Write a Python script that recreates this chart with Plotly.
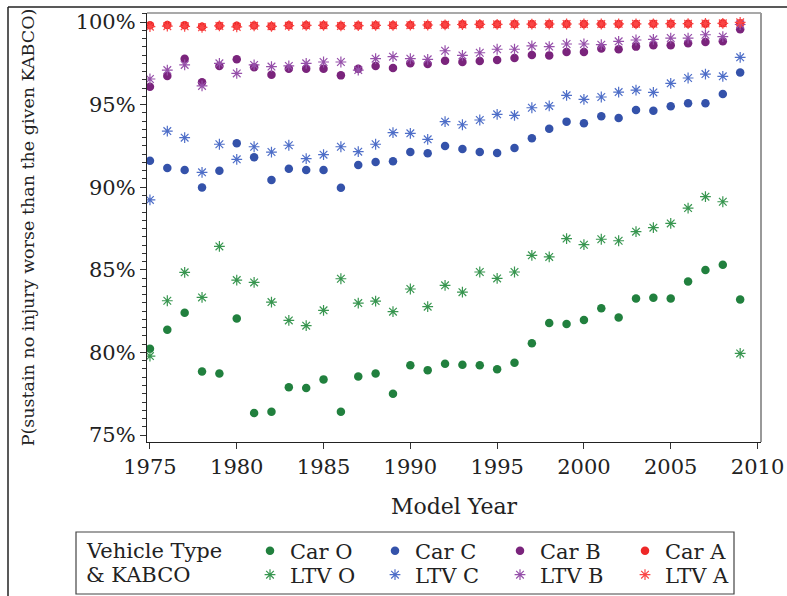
import plotly.graph_objects as go

# Model years
years = list(range(1975, 2010))

# P(sustain no injury worse than the given KABCO), in percent
car_o = [80.23, 81.38, 82.40, 78.85, 78.73, 82.06, 76.33, 76.41, 77.89, 77.85,
         78.37, 76.41, 78.54, 78.73, 77.50, 79.22, 78.93, 79.32, 79.26, 79.22,
         78.98, 79.38, 80.55, 81.78, 81.72, 81.96, 82.67, 82.12, 83.27, 83.31,
         83.27, 84.30, 84.99, 85.31, 83.21]
ltv_o = [79.78, 83.13, 84.85, 83.33, 86.42, 84.38, 84.24, 83.05, 81.94, 81.62,
         82.55, 84.46, 82.99, 83.11, 82.47, 83.84, 82.77, 84.06, 83.65, 84.87,
         84.48, 84.87, 85.88, 85.78, 86.89, 86.52, 86.85, 86.76, 87.31, 87.55,
         87.81, 88.74, 89.43, 89.12, 79.94]
car_c = [91.60, 91.16, 91.04, 89.99, 91.00, 92.66, 91.81, 90.44, 91.12, 91.04,
         91.04, 89.97, 91.34, 91.53, 91.57, 92.13, 92.05, 92.49, 92.32, 92.13,
         92.07, 92.37, 92.96, 93.54, 93.97, 93.87, 94.29, 94.19, 94.67, 94.63,
         94.90, 95.08, 95.08, 95.64, 96.95]
ltv_c = [89.23, 93.40, 93.00, 90.90, 92.60, 91.69, 92.45, 92.13, 92.54, 91.73,
         91.97, 92.45, 92.15, 92.60, 93.30, 93.26, 92.90, 93.97, 93.78, 94.07,
         94.41, 94.35, 94.81, 94.92, 95.56, 95.32, 95.46, 95.76, 95.88, 95.74,
         96.29, 96.61, 96.85, 96.71, 97.86]
car_b = [96.08, 96.73, 97.78, 96.35, 97.34, 97.74, 97.26, 96.81, 97.17, 97.17,
         97.17, 96.77, 97.17, 97.34, 97.22, 97.50, 97.46, 97.66, 97.58, 97.64,
         97.70, 97.82, 98.00, 97.98, 98.18, 98.18, 98.39, 98.35, 98.51, 98.59,
         98.59, 98.71, 98.79, 98.83, 99.56]
ltv_b = [96.55, 97.09, 97.40, 96.13, 97.50, 96.89, 97.40, 97.30, 97.34, 97.50,
         97.58, 97.58, 97.09, 97.78, 97.90, 97.78, 97.74, 98.26, 97.98, 98.14,
         98.35, 98.35, 98.55, 98.51, 98.67, 98.67, 98.63, 98.83, 98.91, 98.95,
         99.03, 99.03, 99.23, 99.11, 99.85]
car_a = [99.80, 99.82, 99.81, 99.72, 99.78, 99.78, 99.79, 99.75, 99.80, 99.80,
         99.80, 99.77, 99.79, 99.80, 99.81, 99.82, 99.82, 99.84, 99.86, 99.87,
         99.87, 99.88, 99.88, 99.88, 99.88, 99.88, 99.88, 99.88, 99.88, 99.89,
         99.89, 99.90, 99.90, 99.92, 99.93]
ltv_a = [99.72, 99.75, 99.74, 99.68, 99.76, 99.70, 99.77, 99.74, 99.78, 99.79,
         99.80, 99.76, 99.78, 99.80, 99.80, 99.81, 99.82, 99.83, 99.85, 99.86,
         99.86, 99.87, 99.87, 99.88, 99.88, 99.88, 99.88, 99.89, 99.89, 99.89,
         99.90, 99.90, 99.91, 99.92, 99.98]

y_ticks = [75, 80, 85, 90, 95, 100]
y_tick_labels = ["75%", "80%", "85%", "90%", "95%", "100%"]
x_ticks = [1975, 1980, 1985, 1990, 1995, 2000, 2005, 2010]

FONT = "DejaVu Serif"

car_series = [
    ("Car O", car_o, "rgb(33,128,62)"),
    ("Car C", car_c, "rgb(52,82,170)"),
    ("Car B", car_b, "rgb(122,36,124)"),
    ("Car A", car_a, "rgb(238,40,40)"),
]
ltv_series = [
    ("LTV O", ltv_o, "rgb(56,150,80)"),
    ("LTV C", ltv_c, "rgb(78,110,200)"),
    ("LTV B", ltv_b, "rgb(150,80,170)"),
    ("LTV A", ltv_a, "rgb(250,70,70)"),
]

fig = go.Figure()
for name, vals, col in car_series:
    fig.add_trace(go.Scatter(
        x=years, y=vals, name=name, mode="markers", legend="legend",
        marker=dict(symbol="circle", size=8.5, color=col, line=dict(width=0)),
    ))
for name, vals, col in ltv_series:
    fig.add_trace(go.Scatter(
        x=years, y=vals, name=name, mode="markers", legend="legend2",
        marker=dict(symbol="asterisk-open", size=9, color=col,
                    line=dict(width=1.2, color=col)),
    ))

# pixel -> paper helpers for the decorations around the plot area
L, R, T, B = 147, 26, 13, 154
W, H = 787, 596
PW, PH = W - L - R, H - T - B


def px(x):
    return (x - L) / PW


def py(y):
    return (H - B - y) / PH


shapes = [
    # outer frame (top and left)
    dict(type="line", xref="paper", yref="paper", x0=px(8), x1=px(787),
         y0=py(7), y1=py(7), line=dict(color="#222", width=1.5)),
    dict(type="line", xref="paper", yref="paper", x0=px(8), x1=px(8),
         y0=py(7), y1=py(600), line=dict(color="#222", width=1.5)),
    # plot frame top/right
    dict(type="line", xref="paper", yref="paper", x0=0, x1=1, y0=1, y1=1,
         line=dict(color="#555", width=1.2)),
    dict(type="line", xref="paper", yref="paper", x0=1, x1=1, y0=0, y1=1,
         line=dict(color="#999", width=2)),
    # legend box
    dict(type="rect", xref="paper", yref="paper", x0=px(76), x1=px(734),
         y0=py(532), y1=py(594), line=dict(color="#444", width=1.2)),
]

annotations = [
    dict(text="Vehicle Type", xref="paper", yref="paper", x=px(84), y=py(551),
         xanchor="left", yanchor="middle", showarrow=False,
         font=dict(family=FONT, size=21, color="#222")),
    dict(text="&amp; KABCO", xref="paper", yref="paper", x=px(84), y=py(575),
         xanchor="left", yanchor="middle", showarrow=False,
         font=dict(family=FONT, size=21, color="#222")),
]

legend_common = dict(
    orientation="h", xanchor="left", yanchor="middle",
    entrywidth=80, entrywidthmode="pixels",
    bgcolor="rgba(0,0,0,0)", borderwidth=0,
    font=dict(family=FONT, size=21, color="#222"),
    traceorder="normal",
)

fig.update_layout(
    width=W, height=H,
    margin=dict(l=L, r=R, t=T, b=B, pad=0, autoexpand=False),
    paper_bgcolor="white", plot_bgcolor="white",
    font=dict(family=FONT, color="#222"),
    showlegend=True,
    legend=dict(x=px(250), y=py(551), **legend_common),
    legend2=dict(x=px(250), y=py(575), **legend_common),
    xaxis=dict(
        range=[1974.83, 2010.2], tickvals=x_ticks, ticks="outside", ticklen=6,
        tickcolor="#333", showline=True, linecolor="#222", linewidth=1.2,
        showgrid=False, zeroline=False,
        tickfont=dict(family=FONT, size=21, color="#222"),
        title=dict(text="Model Year", standoff=20,
                   font=dict(family=FONT, size=22, color="#222")),
    ),
    yaxis=dict(
        range=[74.58, 100.545], tickvals=y_ticks, ticktext=y_tick_labels,
        ticks="outside", ticklen=6, tickcolor="#333",
        minor=dict(dtick=0.5, tick0=75, ticks="outside", ticklen=4,
                   tickcolor="#333", showgrid=False),
        showline=True, linecolor="#222", linewidth=1.2,
        showgrid=False, zeroline=False,
        tickfont=dict(family=FONT, size=21, color="#222"),
        title=dict(text="P(sustain no injury worse than the given KABCO)",
                   standoff=36, font=dict(family=FONT, size=17.5, color="#222")),
    ),
    shapes=shapes,
    annotations=annotations,
)

fig.write_html("out.html")
